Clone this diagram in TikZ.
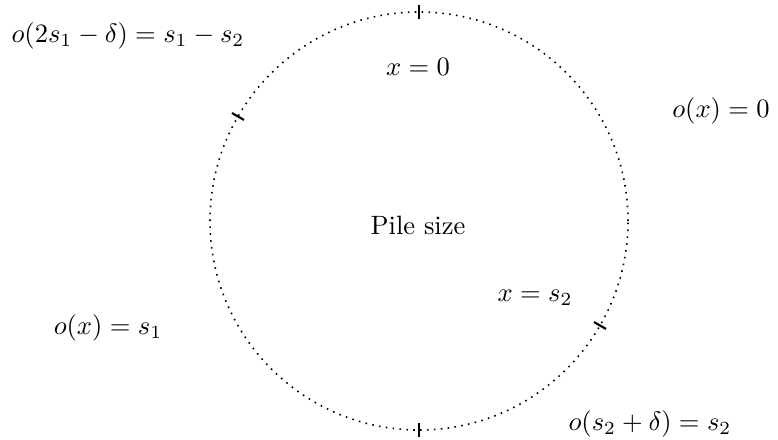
\documentclass[tikz,border=0pt]{standalone}
\usetikzlibrary{calc}
\begin{document}
\begin{tikzpicture}[x=0.377pt,y=-0.377pt,
  lbl/.style={inner sep=0pt},
  rim/.style={dotted,line width=0.6pt},
  tickmark/.style={line width=0.8pt}]
\useasboundingbox (0,0) rectangle (778,440);
\coordinate (c) at (419,221);
\draw[rim] (c) circle[radius=78.8pt];
\foreach \a in {90,150,270,-30}{
  \draw[tickmark] ($(c)+(\a:76.2pt)$) -- ($(c)+(\a:81.4pt)$);
}
\node[lbl] (pile) at (418,225) {Pile size};
\node[lbl] (x0) at (418,67) {$x=0$};
\node[lbl] (ox0) at (721,111) {$o(x)=0$};
\node[lbl] (xs2) at (535,298) {$x=s_2$};
\node[lbl] (oxs1) at (108,328) {$o(x)=s_1$};
\node[lbl] (os2d) at (650,424) {$o(s_2+\delta)=s_2$};
\node[lbl] (o2s1) at (128,36) {$o(2s_1-\delta)=s_1-s_2$};
\end{tikzpicture}
\end{document}
